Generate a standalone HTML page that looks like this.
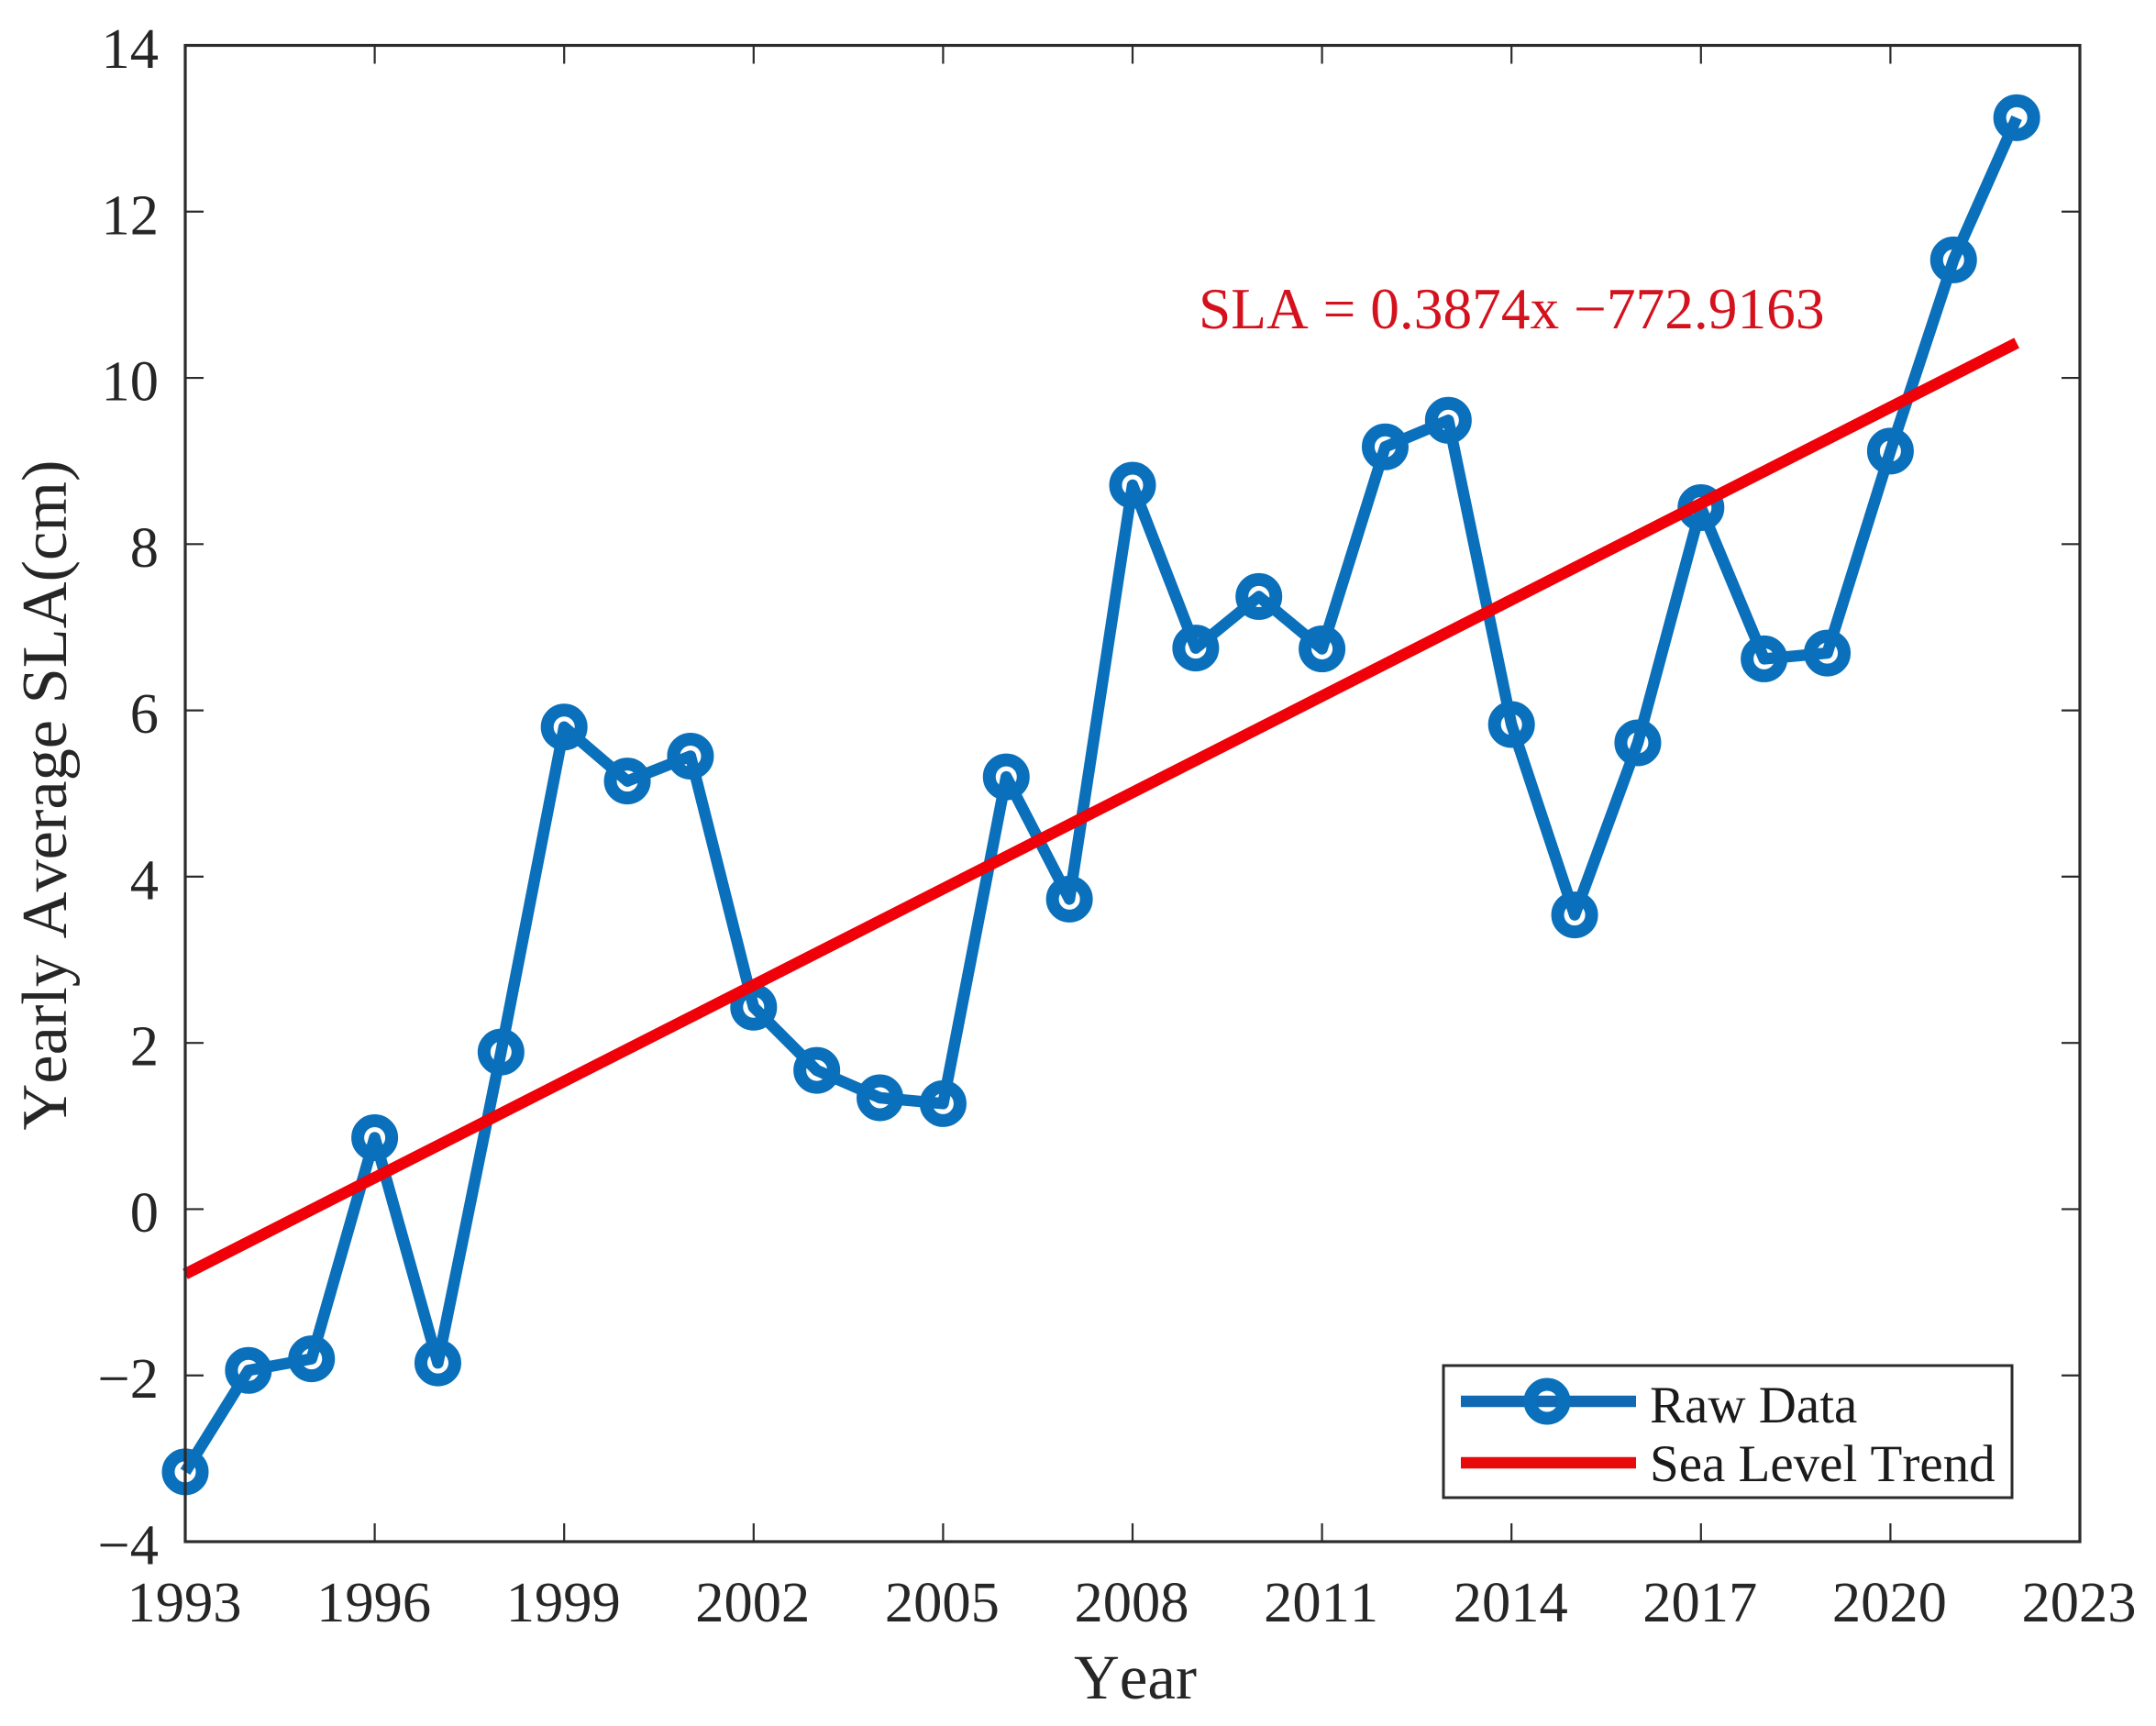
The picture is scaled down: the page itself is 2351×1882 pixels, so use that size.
<!DOCTYPE html>
<html lang="en">
<head>
<meta charset="utf-8">
<title>Yearly Average SLA</title>
<style>
  html, body { margin: 0; padding: 0; background: #ffffff; }
  svg { display: block; }
  text { font-family: "Liberation Serif", serif; fill: #262626; font-kerning: none; }
</style>
</head>
<body>
<svg id="chart" xmlns="http://www.w3.org/2000/svg" width="2351" height="1882" viewBox="0 0 2351 1882">
  <rect x="0" y="0" width="2351" height="1882" fill="#ffffff"/>
  <g id="ticks"></g>
  <g id="series"></g>
  <rect x="202" y="49.5" width="2066" height="1631.5" fill="none" stroke="#2b2b2b" stroke-width="3.2"/>
  <g id="labels"></g>
  <text x="1238" y="1852" font-size="69" text-anchor="middle">Year</text>
  <text x="0" y="0" font-size="70.4" text-anchor="middle" transform="translate(72 867) rotate(-90)">Yearly Average SLA(cm)</text>
  <text x="1307" y="358" font-size="63.4" style="fill:#d4121e">SLA = 0.3874x −772.9163</text>
  <g>
    <rect x="1574" y="1489" width="620" height="144" fill="#ffffff" stroke="#2b2b2b" stroke-width="3"/>
    <line x1="1593" y1="1528" x2="1784" y2="1528" stroke="#1069b2" stroke-width="12.5"/>
    <circle cx="1687" cy="1528" r="18.5" fill="none" stroke="#0a70bb" stroke-width="14"/>
    <text x="1799" y="1551" font-size="57" style="fill:#1a1a1a">Raw Data</text>
    <line x1="1593" y1="1595" x2="1784" y2="1595" stroke="#e80a0a" stroke-width="12.5"/>
    <text x="1799" y="1615" font-size="57" style="fill:#1a1a1a">Sea Level Trend</text>
  </g>
</svg>
<script>
const years = [1993,1994,1995,1996,1997,1998,1999,2000,2001,2002,2003,2004,2005,2006,2007,2008,2009,2010,2011,2012,2013,2014,2015,2016,2017,2018,2019,2020,2021,2022];
const rawValues = [-3.16,-1.94,-1.80,0.86,-1.85,1.89,5.80,5.15,5.45,2.43,1.67,1.34,1.27,5.20,3.73,8.71,6.75,7.37,6.74,9.17,9.49,5.83,3.54,5.61,8.44,6.62,6.69,9.12,11.42,13.13];
const trendYears = [1993,2022];
const trendValues = [-0.78,10.42];
const xTicks = [1993,1996,1999,2002,2005,2008,2011,2014,2017,2020,2023];
const yTicks = [-4,-2,0,2,4,6,8,10,12,14];

const NS = 'http://www.w3.org/2000/svg';
const PLOT_LEFT = 202, PLOT_RIGHT = 2268, PLOT_TOP = 49.5, PLOT_BOTTOM = 1681;
const X_MIN = 1993, X_MAX = 2023, Y_MIN = -4, Y_MAX = 14;
const TICK_LEN = 20;

function xScale(v) {
  return PLOT_LEFT + (v - X_MIN) / (X_MAX - X_MIN) * (PLOT_RIGHT - PLOT_LEFT);
}
function yScale(v) {
  return PLOT_BOTTOM - (v - Y_MIN) / (Y_MAX - Y_MIN) * (PLOT_BOTTOM - PLOT_TOP);
}
function svgEl(tag, attrs, parent) {
  const el = document.createElementNS(NS, tag);
  for (const k in attrs) el.setAttribute(k, attrs[k]);
  parent.appendChild(el);
  return el;
}
function tickLine(x1, y1, x2, y2) {
  return svgEl('line', { x1: x1, y1: y1, x2: x2, y2: y2, stroke: '#2b2b2b', 'stroke-width': 2.2 }, ticksGroup);
}

const ticksGroup = document.getElementById('ticks');
const seriesGroup = document.getElementById('series');
const labelsGroup = document.getElementById('labels');

xTicks.forEach(function (t) {
  const x = xScale(t);
  const bottomTick = tickLine(x, PLOT_BOTTOM, x, PLOT_BOTTOM - TICK_LEN);
  
  
  const topTick = tickLine(x, PLOT_TOP, x, PLOT_TOP + TICK_LEN);
  
  
  const label = svgEl('text', { x: x - 1, y: 1768, 'font-size': 62.5, 'text-anchor': 'middle' }, labelsGroup);
  label.textContent = String(t);
  
  
});

yTicks.forEach(function (t) {
  const y = yScale(t);
  const leftTick = tickLine(PLOT_LEFT, y, PLOT_LEFT + TICK_LEN, y);
  
  
  const rightTick = tickLine(PLOT_RIGHT, y, PLOT_RIGHT - TICK_LEN, y);
  
  
  const label = svgEl('text', { x: 173, y: y + 24.5, 'font-size': 62.5, 'text-anchor': 'end' }, labelsGroup);
  label.textContent = t < 0 ? '\u2212' + Math.abs(t) : String(t);
  
  
});

const rawPoints = years.map(function (yr, i) {
  return xScale(yr) + ',' + yScale(rawValues[i]);
}).join(' ');
const rawLine = svgEl('polyline', { points: rawPoints, fill: 'none', stroke: '#0a70bb', 'stroke-width': 12.5, 'stroke-linejoin': 'round' }, seriesGroup);



years.forEach(function (yr, i) {
  const marker = svgEl('circle', { cx: xScale(yr), cy: yScale(rawValues[i]), r: 18.5, fill: 'none', stroke: '#0a70bb', 'stroke-width': 14 }, seriesGroup);
  
  
});

const trendPoints = trendYears.map(function (yr, i) {
  return xScale(yr) + ',' + yScale(trendValues[i]);
}).join(' ');
const trendLine = svgEl('polyline', { points: trendPoints, fill: 'none', stroke: '#f00008', 'stroke-width': 12.5 }, seriesGroup);


</script>
</body>
</html>
